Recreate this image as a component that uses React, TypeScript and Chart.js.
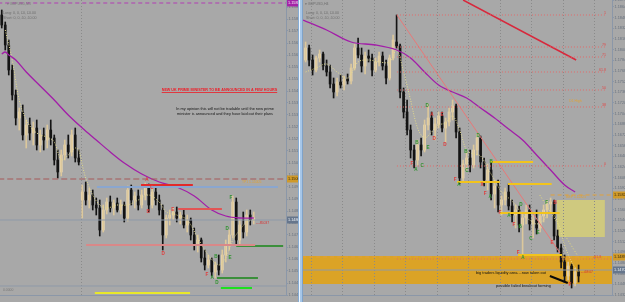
import React, { useEffect, useRef } from "react";
import { Chart, registerables } from "chart.js";

Chart.register(...registerables);

const FONT = "'Liberation Sans', Arial, 'DejaVu Sans', sans-serif";
const BG = "#a8a8a8";
const AXIS = "#8b97a8";
const LABEL = "#66707e";
const BULL_BODY = "#f3dfb2";
const BULL_WICK = "#dcc89c";
const BEAR = "#141414";
const PURPLE = "#a21ea8";
const FAST = "#e4dc8c";
const RED_TXT = "#e03c3c";
const GREEN_TXT = "#2f932f";

// ---------------- LEFT PANEL (GBPUSD, intraday) ----------------
const leftOpen = [
  1.15825, 1.15775, 1.15675, 1.1555, 1.15425, 1.1531, 1.1534, 1.15225, 1.15275, 1.15235,
  1.1526, 1.15175, 1.15225, 1.152, 1.1525, 1.1521, 1.151, 1.1504, 1.15125, 1.15175,
  1.1514, 1.15225, 1.1511, 1.149, 1.1494, 1.149, 1.14925, 1.14875, 1.1486, 1.1475,
  1.1485, 1.1489, 1.1486, 1.14885, 1.1485, 1.14875, 1.1481, 1.1495, 1.149, 1.1492,
  1.14875, 1.14925, 1.1496, 1.14875, 1.1494, 1.149, 1.1485, 1.14725, 1.1481, 1.14825,
  1.1484, 1.1481, 1.14825, 1.14775, 1.148, 1.14725, 1.14675, 1.147, 1.1461, 1.14575,
  1.146, 1.1454, 1.14575, 1.1455, 1.14625, 1.14675, 1.14725, 1.1489, 1.147, 1.14775,
  1.1474, 1.14825, 1.148,
];
const leftHigh = [
  1.1585, 1.1579, 1.157, 1.15575, 1.1545, 1.1536, 1.15375, 1.153, 1.1531, 1.1529,
  1.153, 1.1525, 1.1526, 1.15275, 1.153, 1.15225, 1.1515, 1.1515, 1.152, 1.15225,
  1.1525, 1.1526, 1.1515, 1.14975, 1.1499, 1.1496, 1.1495, 1.1491, 1.149, 1.14875,
  1.1491, 1.1492, 1.149, 1.1491, 1.149, 1.1489, 1.1497, 1.14975, 1.1494, 1.1495,
  1.1495, 1.14985, 1.1498, 1.1496, 1.1496, 1.14925, 1.14875, 1.14825, 1.1485, 1.1486,
  1.14865, 1.1484, 1.1485, 1.14825, 1.1481, 1.1476, 1.14725, 1.1471, 1.1465, 1.14625,
  1.1461, 1.1459, 1.14625, 1.1465, 1.147, 1.1475, 1.1492, 1.1491, 1.148, 1.1484,
  1.1485, 1.1485, 1.1484,
];
const leftLow = [
  1.1576, 1.1565, 1.15525, 1.154, 1.15275, 1.1525, 1.152, 1.1516, 1.152, 1.15175,
  1.1515, 1.1514, 1.1515, 1.1516, 1.15175, 1.15075, 1.1501, 1.1502, 1.151, 1.1511,
  1.1512, 1.1509, 1.15075, 1.1481, 1.14875, 1.1486, 1.1485, 1.14825, 1.1472, 1.1474,
  1.1483, 1.1484, 1.14825, 1.1484, 1.1483, 1.1479, 1.14795, 1.14875, 1.1486, 1.1485,
  1.1486, 1.149, 1.1484, 1.1486, 1.14875, 1.14825, 1.1465, 1.1471, 1.14775, 1.148,
  1.1479, 1.1478, 1.1476, 1.1474, 1.147, 1.1465, 1.1464, 1.1459, 1.1455, 1.1456,
  1.1452, 1.1451, 1.14525, 1.14535, 1.1459, 1.1465, 1.1471, 1.14675, 1.1468, 1.1471,
  1.1472, 1.14775, 1.1478,
];
const leftClose = [
  1.15775, 1.15675, 1.1555, 1.15425, 1.1531, 1.1534, 1.15225, 1.15275, 1.15235, 1.1526,
  1.15175, 1.15225, 1.152, 1.1525, 1.1521, 1.151, 1.1504, 1.15125, 1.15175, 1.1514,
  1.15225, 1.1511, 1.1509, 1.1494, 1.149, 1.14925, 1.14875, 1.1486, 1.1475, 1.1485,
  1.1489, 1.1486, 1.14885, 1.1485, 1.14875, 1.1481, 1.1495, 1.149, 1.1492, 1.14875,
  1.14925, 1.1496, 1.14875, 1.1494, 1.149, 1.1485, 1.14725, 1.1481, 1.14825, 1.1484,
  1.1481, 1.14825, 1.14775, 1.148, 1.14725, 1.14675, 1.147, 1.1461, 1.14575, 1.146,
  1.1454, 1.14575, 1.1455, 1.14625, 1.14675, 1.14725, 1.1489, 1.147, 1.14775, 1.1474,
  1.14825, 1.148, 1.1481,
];
const leftFastIdx = [1, 3, 5, 7, 9, 11, 13, 15, 17, 19, 21, 22, 23, 24, 26, 28, 30, 33, 36, 39, 42, 45, 47, 50, 53, 56, 59, 62, 64, 66, 68, 70, 72];
const leftFastVal = [
  1.1575, 1.156, 1.154, 1.153, 1.1525, 1.15225, 1.15215, 1.1519, 1.151, 1.15125,
  1.1516, 1.1515, 1.15075, 1.1501, 1.14925, 1.14875, 1.1486, 1.14875, 1.14875, 1.149,
  1.14925, 1.1489, 1.1484, 1.14825, 1.148, 1.1471, 1.14625, 1.14575, 1.1461, 1.147,
  1.1475, 1.1479, 1.148,
];
const leftSlowIdx = [0, 1, 2, 4, 7, 11, 15, 19, 23, 27, 31, 35, 40, 45, 50, 55, 60, 64, 68, 72];
const leftSlowVal = [
  1.1563, 1.1564, 1.15625, 1.156, 1.1554, 1.1547, 1.154, 1.15325, 1.1526, 1.152,
  1.1514, 1.15085, 1.1503, 1.1499, 1.14965, 1.1492, 1.1485, 1.1482, 1.1481, 1.1481,
];
const leftTickIdx = [0, 6, 12, 18, 24, 30, 36, 42, 48, 54, 60, 66, 72];
const leftTimeLabels = [
  "2 Sep 2022", "2 Sep 20:20", "2 Sep 20:40", "2 Sep 23:00", "5 Sep 00:49", "5 Sep 02:09",
  "5 Sep 03:29", "5 Sep 04:49", "5 Sep 06:09", "5 Sep 07:29", "5 Sep 08:49", "5 Sep 10:09", "5 Sep 11:29",
];
const leftLevelPrice = [1.15885, 1.15005, 1.14965, 1.148, 1.14675, 1.14975, 1.14855, 1.1467, 1.1451, 1.1446, 1.14435, 1.1447];
const leftLevelFrom = [-1, -1, 27.2, -1, 24.1, 39.8, 50.4, 67, 61.5, 62.6, 26.6, -1];
const leftLevelTo = [82, 82, 78.9, 82, 72.4, 54.6, 62.9, 80.4, 73.2, 71.5, 53.8, 82];
const leftSessionBreaks = [22.5];
const leftLetters = ["A", "C", "B", "E", "D", "F", "A", "D", "B", "D", "E", "F"];
const leftLetterX = [41.5, 42.9, 41.8, 48.9, 46.1, 58.6, 60.1, 61.5, 61.2, 64.4, 65.2, 65.5];
const leftLetterY = [1.15, 1.1496, 1.1484, 1.1485, 1.1463, 1.14525, 1.1451, 1.14485, 1.14615, 1.14755, 1.1461, 1.1491];
const leftLetterTone = ["r", "r", "r", "r", "r", "r", "g", "g", "g", "g", "g", "g"];
const leftTagPrice = [1.15885, 1.15005, 1.148];

// ---------------- RIGHT PANEL (GBPUSD, H4) ----------------
const rightOpen = [
  1.1785, 1.1803, 1.1785, 1.177, 1.1788, 1.1794, 1.1776, 1.1767, 1.1749, 1.1737,
  1.1752, 1.17475, 1.17565, 1.17535, 1.1773, 1.1803, 1.17925, 1.1776, 1.1791, 1.1788,
  1.177, 1.1782, 1.1791, 1.1776, 1.1758, 1.1788, 1.1812, 1.1806, 1.1737, 1.1707,
  1.168, 1.165, 1.1635, 1.16575, 1.165, 1.16875, 1.1698, 1.168, 1.1689, 1.1701,
  1.1683, 1.1692, 1.1707, 1.1716, 1.1677, 1.1608, 1.1629, 1.1638, 1.16275, 1.165,
  1.1668, 1.1632, 1.1605, 1.162, 1.1584, 1.1596, 1.15675, 1.1575, 1.1587, 1.1566,
  1.15525, 1.156, 1.15375, 1.1548, 1.156, 1.1539, 1.1545, 1.1533, 1.1551, 1.156,
  1.1569, 1.1572, 1.1521, 1.1503, 1.1482, 1.1461, 1.1476, 1.14505, 1.1467,
];
const rightHigh = [
  1.1812, 1.18075, 1.17925, 1.1791, 1.18, 1.1797, 1.1785, 1.17775, 1.1758, 1.1758,
  1.17625, 1.1761, 1.1764, 1.1779, 1.1809, 1.1818, 1.1803, 1.1797, 1.18, 1.1794,
  1.1788, 1.1797, 1.1797, 1.1785, 1.17925, 1.18225, 1.18525, 1.1809, 1.1743, 1.1725,
  1.16875, 1.16575, 1.1665, 1.1668, 1.1695, 1.1719, 1.1707, 1.1698, 1.1707, 1.1707,
  1.1698, 1.1713, 1.1725, 1.1719, 1.1683, 1.1635, 1.1647, 1.165, 1.16575, 1.1674,
  1.1671, 1.1638, 1.1629, 1.1632, 1.1605, 1.1605, 1.1581, 1.1593, 1.1599, 1.1575,
  1.15675, 1.1566, 1.1557, 1.15675, 1.15675, 1.15525, 1.156, 1.1557, 1.15675, 1.1575,
  1.1578, 1.1575, 1.153, 1.1509, 1.14925, 1.1482, 1.1479, 1.1473, 1.14775,
];
const rightLow = [
  1.1782, 1.1776, 1.17625, 1.1767, 1.1782, 1.177, 1.1761, 1.1743, 1.1728, 1.1731,
  1.1743, 1.174, 1.1749, 1.1749, 1.177, 1.1788, 1.1767, 1.1764, 1.1782, 1.1761,
  1.1767, 1.1776, 1.177, 1.1749, 1.1755, 1.1785, 1.1803, 1.1728, 1.1698, 1.16725,
  1.1638, 1.1623, 1.16275, 1.1641, 1.1647, 1.168, 1.16725, 1.1665, 1.1683, 1.1677,
  1.1662, 1.1686, 1.1695, 1.1668, 1.1599, 1.1602, 1.162, 1.1617, 1.1623, 1.16425,
  1.1623, 1.1596, 1.159, 1.1575, 1.1563, 1.1557, 1.15525, 1.15675, 1.156, 1.1542,
  1.1533, 1.1527, 1.1491, 1.1539, 1.153, 1.1518, 1.1524, 1.1527, 1.1542, 1.1548,
  1.1557, 1.1515, 1.1497, 1.1473, 1.1452, 1.1455, 1.1443, 1.1446, 1.1452,
];
const rightClose = [
  1.1803, 1.1785, 1.177, 1.1788, 1.1794, 1.1776, 1.1767, 1.1749, 1.1737, 1.1752,
  1.17475, 1.17565, 1.17535, 1.1773, 1.1803, 1.17925, 1.1776, 1.1791, 1.1788, 1.177,
  1.1782, 1.1791, 1.1776, 1.1758, 1.1788, 1.1815, 1.1806, 1.1737, 1.1707, 1.168,
  1.165, 1.1635, 1.16575, 1.165, 1.16875, 1.1698, 1.168, 1.1689, 1.1701, 1.1683,
  1.1692, 1.1707, 1.1716, 1.1677, 1.1608, 1.1629, 1.1638, 1.16275, 1.165, 1.1668,
  1.1632, 1.1605, 1.162, 1.1584, 1.1596, 1.15675, 1.1575, 1.1587, 1.1566, 1.15525,
  1.156, 1.15375, 1.1548, 1.156, 1.1539, 1.1545, 1.1533, 1.1551, 1.156, 1.1569,
  1.1572, 1.1521, 1.1503, 1.1482, 1.1461, 1.1476, 1.14505, 1.1467, 1.1461,
];
const rightFastIdx = [0, 3, 6, 9, 12, 15, 18, 21, 24, 26, 28, 30, 32, 34, 36, 38, 40, 42, 44, 46, 48, 50, 52, 54, 56, 58, 60, 62, 64, 66, 68, 70, 72, 74, 76, 78];
const rightFastVal = [
  1.1767, 1.1773, 1.1779, 1.1767, 1.1758, 1.1782, 1.1785, 1.1782, 1.1782, 1.18,
  1.1767, 1.1725, 1.1683, 1.1668, 1.1677, 1.16875, 1.16905, 1.1701, 1.168, 1.165,
  1.1644, 1.1641, 1.1623, 1.1605, 1.1587, 1.1578, 1.15675, 1.15525, 1.1545, 1.1539,
  1.1545, 1.1557, 1.1542, 1.15075, 1.1482, 1.1467,
];
const rightSlowIdx = [-0.7, 6, 13, 20, 26, 30, 34, 38, 42, 46, 50, 54, 58, 62, 66, 70, 74, 77];
const rightSlowVal = [
  1.1845, 1.183, 1.1812, 1.18075, 1.18, 1.1788, 1.1767, 1.17475, 1.1737, 1.1728,
  1.1713, 1.1698, 1.16815, 1.1665, 1.16425, 1.162, 1.15975, 1.1587,
];
const rightTickIdx = [0, 6, 12, 18, 24, 30, 36, 42, 48, 54, 60, 66, 72, 78];
const rightTimeLabels = [
  "19 Aug 2022", "22 Aug 08:00", "23 Aug 08:00", "24 Aug 08:00", "25 Aug 08:00", "26 Aug 08:00", "29 Aug 08:00",
  "30 Aug 08:00", "31 Aug 08:00", "1 Sep 08:00", "2 Sep 08:00", "5 Sep 08:00", "6 Sep 08:00", "7 Sep 08:00",
];
const rightGrid = [1.5, 10.5, 19.5, 28.5, 37.5, 46.5, 55.5, 64.5, 73.5, 82.5];
const rightFibPrice = [1.18525, 1.18045, 1.17895, 1.1767, 1.174, 1.17145, 1.1626, 1.14865];
const rightFibLabel = ["1", "79", "71", "61.8", "50", "38", "0", "-61.8"];
const rightFibFrom = 26.1;
const rightFibTo = [85.9, 85.9, 85.9, 85.9, 85.9, 85.9, 85.9, 88];
const rightGoldPrice = [1.1602, 1.1632, 1.1599, 1.15555, 1.14925];
const rightGoldFrom = [43.3, 52.7, 57.8, 55.5, 60.7];
const rightGoldTo = [55.5, 65, 70.3, 72.6, 73.3];
const rightMarkPrice = [1.15825, 1.14895, 1.147];
const rightMarkFrom = [70, -1, -1];
const rightMarkTo = [88, 88, 88];
const rightTrendX = [45.0, 77.3];
const rightTrendY = [1.1875, 1.1785];
const rightSwingX = [26.1, 72.7];
const rightSwingY = [1.18525, 1.14955];
const rightProjX = [66.9, 77.6];
const rightProjY = [1.15825, 1.14925];
const rightArrowX = [69.8, 74.9];
const rightArrowY = [1.1461, 1.14505];
const rightZoneX = [-1, 88];
const rightZoneY = [1.1491, 1.1449];
const rightBoxX = [71.8, 85.5];
const rightBoxY = [1.1575, 1.15195];
const rightLetters = ["D", "A", "E", "D", "D", "B", "E", "F", "A", "C", "F", "A", "B", "C", "D", "B", "X", "A", "F", "F", "A", "D", "F", "B", "E", "C", "F", "B", "E", "F", "A", "F"];
const rightLetterX = [34.7, 36.1, 39.0, 36.7, 39.8, 31.8, 35.0, 30.4, 31.5, 33.3, 42.7, 43.8, 45.8, 46.1, 49.3, 53.0, 50.4, 52.7, 51.3, 55.5, 58.1, 61.5, 59.5, 61.3, 66.4, 64.4, 68.9, 71.3, 70.4, 60.7, 62.1, 75.5];
const rightLetterY = [1.1716, 1.17025, 1.17025, 1.16665, 1.16575, 1.16605, 1.1653, 1.1629, 1.162, 1.1626, 1.1605, 1.15975, 1.1647, 1.16185, 1.1671, 1.1632, 1.15975, 1.15795, 1.1584, 1.15555, 1.1551, 1.15675, 1.15375, 1.15345, 1.15255, 1.15165, 1.15705, 1.15705, 1.15105, 1.14955, 1.1488, 1.14475];
const rightLetterTone = ["g", "r", "r", "r", "r", "g", "g", "r", "g", "g", "r", "g", "g", "g", "g", "g", "r", "g", "r", "r", "g", "g", "r", "g", "g", "g", "g", "r", "r", "r", "g", "r"];
const rightTagPrice = [1.15825, 1.14895, 1.147];

// ---------------- helpers ----------------
function candleDatasets(o: number[], h: number[], l: number[], c: number[], body: number) {
  const bullWick: any[] = [], bearWick: any[] = [], bullBody: any[] = [], bearBody: any[] = [];
  o.forEach((op, i) => {
    const up = c[i] >= op;
    (up ? bullWick : bearWick).push({ x: i, y: [l[i], h[i]] });
    (up ? bullBody : bearBody).push({ x: i, y: [Math.min(op, c[i]), Math.max(op, c[i])] });
  });
  const base: any = { type: "bar", grouped: false, borderWidth: 0, order: 10, minBarLength: 1 };
  return [
    { ...base, data: bullWick, backgroundColor: BULL_WICK, barThickness: 1 },
    { ...base, data: bearWick, backgroundColor: BEAR, barThickness: 1 },
    { ...base, data: bullBody, backgroundColor: BULL_BODY, barThickness: body },
    { ...base, data: bearBody, backgroundColor: BEAR, barThickness: body },
  ];
}

function seg(x: number[], y: number[], color: string, width: number, dash: number[] = []) {
  return {
    type: "line",
    data: x.map((v, i) => ({ x: v, y: y[i] })),
    borderColor: color,
    borderWidth: width,
    borderDash: dash,
    pointRadius: 0,
    fill: false,
    tension: 0,
    order: 1,
  };
}

function curve(x: number[], y: number[], color: string, width: number, dash: number[] = []) {
  return { ...seg(x, y, color, width, dash), tension: 0.35, order: 2 };
}

function overlay(spec: any) {
  return {
    id: "overlay",
    beforeDatasetsDraw(chart: any) {
      const { ctx, chartArea: a } = chart;
      const xs = chart.scales.x, ys = chart.scales.y;
      ctx.save();
      ctx.beginPath();
      ctx.rect(a.left, a.top, a.right - a.left, a.bottom - a.top);
      ctx.clip();
      for (const b of spec.boxes || []) {
        const x0 = xs.getPixelForValue(b.x[0]), x1 = xs.getPixelForValue(b.x[1]);
        const y0 = ys.getPixelForValue(b.y[0]), y1 = ys.getPixelForValue(b.y[1]);
        ctx.fillStyle = b.color;
        ctx.fillRect(Math.min(x0, x1), Math.min(y0, y1), Math.abs(x1 - x0), Math.abs(y1 - y0));
      }
      ctx.strokeStyle = "#8a8a8a";
      ctx.lineWidth = 1;
      ctx.setLineDash([1, 2]);
      for (const v of spec.vlines || []) {
        const px = Math.round(xs.getPixelForValue(v)) + 0.5;
        ctx.beginPath();
        ctx.moveTo(px, a.top);
        ctx.lineTo(px, a.bottom);
        ctx.stroke();
      }
      ctx.restore();
    },
    afterDatasetsDraw(chart: any) {
      const { ctx, chartArea: a } = chart;
      const xs = chart.scales.x, ys = chart.scales.y;
      ctx.save();
      ctx.beginPath();
      ctx.rect(a.left, a.top, a.right - a.left, a.bottom - a.top);
      ctx.clip();
      ctx.textBaseline = "middle";
      for (const t of spec.texts || []) {
        const px = xs.getPixelForValue(t.x), py = ys.getPixelForValue(t.y);
        ctx.font = `${t.bold ? "bold " : ""}${t.size}px ${FONT}`;
        ctx.fillStyle = t.color;
        ctx.textAlign = t.align || "left";
        ctx.fillText(t.text, px, py);
        if (t.underline) {
          const w = ctx.measureText(t.text).width;
          const sx = t.align === "center" ? px - w / 2 : t.align === "right" ? px - w : px;
          ctx.fillRect(sx, py + t.size * 0.55, w, 0.8);
        }
      }
      ctx.textAlign = "left";
      for (const t of spec.corner || []) {
        ctx.font = `${t.size}px ${FONT}`;
        ctx.fillStyle = t.color;
        ctx.fillText(t.text, a.left + t.dx, a.top + t.dy);
      }
      ctx.restore();
    },
    afterDraw(chart: any) {
      const { ctx, chartArea: a } = chart;
      const ys = chart.scales.y;
      ctx.save();
      ctx.textBaseline = "middle";
      ctx.textAlign = "left";
      ctx.font = `3.8px ${FONT}`;
      for (const t of spec.tags || []) {
        const py = ys.getPixelForValue(t.value);
        ctx.fillStyle = t.bg;
        ctx.fillRect(a.right + 1, py - 3.5, chart.width - a.right - 1, 7);
        ctx.fillStyle = t.fg;
        ctx.fillText(t.value.toFixed(5), a.right + 2, py + 0.3);
      }
      ctx.restore();
    },
  };
}

function panelConfig(p: any) {
  return {
    type: "bar",
    data: { datasets: p.datasets },
    plugins: [overlay(p.overlay)],
    options: {
      animation: false,
      responsive: false,
      maintainAspectRatio: false,
      events: [],
      layout: { padding: 0 },
      plugins: { legend: { display: false }, tooltip: { enabled: false } },
      scales: {
        x: {
          type: "linear",
          min: p.xMin,
          max: p.xMax,
          offset: false,
          bounds: "data",
          grid: { display: false, offset: false },
          border: { display: true, color: AXIS },
          afterBuildTicks: (s: any) => {
            s.ticks = p.tickIdx.map((v: number) => ({ value: v }));
          },
          afterFit: (s: any) => {
            s.height = 7;
            s.paddingLeft = 0;
            s.paddingRight = 0;
          },
          ticks: {
            autoSkip: false,
            maxRotation: 0,
            minRotation: 0,
            align: "start",
            padding: 1,
            color: LABEL,
            font: { size: 4, family: FONT },
            callback: (_v: any, i: number) => p.tickLabels[i] ?? "",
          },
        },
        y: {
          type: "linear",
          position: "right",
          min: p.yMin,
          max: p.yMax,
          bounds: "data",
          grid: { display: true, drawOnChartArea: false, drawTicks: true, tickLength: 2, color: AXIS },
          border: { display: true, color: AXIS },
          afterFit: (s: any) => {
            s.width = p.axisWidth;
            s.paddingTop = 0;
            s.paddingBottom = 0;
          },
          ticks: {
            stepSize: p.step,
            includeBounds: false,
            padding: 0.5,
            color: LABEL,
            font: { size: 3.8, family: FONT },
            callback: (v: any) => Number(v).toFixed(5),
          },
        },
      },
    },
  };
}

function letterTexts(letters: string[], xs: number[], ys: number[], tones: string[]) {
  return letters.map((t, i) => ({
    text: t, x: xs[i], y: ys[i], color: tones[i] === "r" ? RED_TXT : GREEN_TXT, size: 4.6, bold: true, align: "center",
  }));
}

function makeLeft() {
  const st = [
    { c: "#b23cb4", w: 1, d: [4, 3] },
    { c: "#a65858", w: 1, d: [6, 3] },
    { c: "#8aa6cf", w: 2 },
    { c: "#8e99a8", w: 1 },
    { c: "#d98888", w: 2 },
    { c: "#e22a2a", w: 2 },
    { c: "#e25555", w: 2 },
    { c: "#3b8f3b", w: 2 },
    { c: "#3b8f3b", w: 2 },
    { c: "#1ee01e", w: 2 },
    { c: "#e8e82a", w: 2 },
    { c: "#8e99a8", w: 1 },
  ];
  const datasets = [
    ...leftLevelPrice.map((lv, k) => seg([leftLevelFrom[k], leftLevelTo[k]], [lv, lv], st[k].c, st[k].w, st[k].d || [])),
    ...candleDatasets(leftOpen, leftHigh, leftLow, leftClose, 2),
    curve(leftSlowIdx, leftSlowVal, PURPLE, 1.3),
    curve(leftFastIdx, leftFastVal, FAST, 1, [1, 1.5]),
  ];
  return panelConfig({
    datasets,
    xMin: -0.5,
    xMax: -0.5 + 286 / 3.5,
    yMin: 1.14425,
    yMax: 1.159,
    step: 0.0006,
    axisWidth: 12,
    tickIdx: leftTickIdx,
    tickLabels: leftTimeLabels,
    overlay: {
      vlines: leftSessionBreaks,
      texts: [
        { text: "NEW UK PRIME MINISTER TO BE ANNOUNCED IN A FEW HOURS", x: 62.2, y: 1.1545, color: "#ee1c26", size: 3.7, bold: true, underline: true, align: "center" },
        { text: "In my opinion this will not be tradable until the new prime", x: 63.8, y: 1.15355, color: "#151515", size: 3.9, align: "center" },
        { text: "minister is announced and they have laid out their plans", x: 63.8, y: 1.1533, color: "#151515", size: 3.9, align: "center" },
        { text: "TP1 1.15005", x: 71.4, y: 1.1499, color: "#e0a232", size: 3.4, align: "center" },
        { text: "\u2190-85037", x: 72.4, y: 1.14785, color: "#d83030", size: 3.4, align: "left" },
        { text: "0.0000", x: 0.36, y: 1.1445, color: "#777777", size: 3.4, align: "left" },
        ...letterTexts(leftLetters, leftLetterX, leftLetterY, leftLetterTone),
      ],
      corner: [
        { text: "\u25BE GBPUSD,M1", dx: 7, dy: 3.5, color: "#7a7a7a", size: 3.6 },
        { text: "Long: 0, 0, \u00A30, \u00A30.00", dx: 3, dy: 13, color: "#6e6e6e", size: 3.6 },
        { text: "Short: 0, 0, \u00A30, \u00A30.00", dx: 3, dy: 18, color: "#6e6e6e", size: 3.6 },
      ],
      tags: [
        { value: leftTagPrice[0], bg: "#a424a8", fg: "#f4e8f4" },
        { value: leftTagPrice[1], bg: "#cf9a2a", fg: "#3a2a08" },
        { value: leftTagPrice[2], bg: "#66768c", fg: "#eef2f6" },
      ],
    },
  });
}

function makeRight() {
  const markStyle = [
    { c: "#e2a13a", w: 1, d: [4, 3] },
    { c: "#e2a13a", w: 1, d: [4, 3] },
    { c: "#8e99a8", w: 1, d: [] as number[] },
  ];
  const datasets = [
    ...rightFibPrice.map((lv, k) => seg([rightFibFrom, rightFibTo[k]], [lv, lv], "#e46a6a", 1, [1, 2])),
    ...rightMarkPrice.map((lv, k) => seg([rightMarkFrom[k], rightMarkTo[k]], [lv, lv], markStyle[k].c, markStyle[k].w, markStyle[k].d)),
    ...candleDatasets(rightOpen, rightHigh, rightLow, rightClose, 2),
    ...rightGoldPrice.map((lv, k) => seg([rightGoldFrom[k], rightGoldTo[k]], [lv, lv], "#f2c41c", 2)),
    seg(rightTrendX, rightTrendY, "#d8283c", 1.5),
    seg(rightSwingX, rightSwingY, "#e87878", 1),
    seg(rightProjX, rightProjY, "#e6dc7a", 1, [1, 2]),
    seg(rightArrowX, rightArrowY, "#0a0a0a", 2),
    curve(rightSlowIdx, rightSlowVal, PURPLE, 1.3),
    curve(rightFastIdx, rightFastVal, FAST, 1, [1, 1.5]),
  ];
  return panelConfig({
    datasets,
    xMin: -0.743,
    xMax: -0.743 + 309 / 3.5,
    yMin: 1.14325,
    yMax: 1.1875,
    step: 0.0016,
    axisWidth: 13,
    tickIdx: rightTickIdx,
    tickLabels: rightTimeLabels,
    overlay: {
      vlines: rightGrid,
      boxes: [
        { x: rightZoneX, y: rightZoneY, color: "#dba326" },
        { x: rightBoxX, y: rightBoxY, color: "rgba(238,228,92,0.55)" },
      ],
      texts: [
        { text: "big traders liquidity area....now taken out", x: 48.7, y: 1.14655, color: "#111111", size: 3.9, align: "left" },
        { text: "possible failed breakout forming", x: 54.4, y: 1.1446, color: "#111111", size: 3.9, align: "left" },
        { text: "\u2190-68:07", x: 78.4, y: 1.1467, color: "#d83030", size: 3.4, align: "left" },
        { text: "BEP 1.15825", x: 77.3, y: 1.15795, color: "#e0a232", size: 3.4, align: "center" },
        { text: "TP1 1.14895", x: 76.4, y: 1.1487, color: "#e0a232", size: 3.4, align: "center" },
        { text: "D1 High", x: 77.1, y: 1.17235, color: "#e0a232", size: 3.4, align: "center" },
        ...rightFibPrice.map((lv, k) => ({
          text: rightFibLabel[k], x: k === 7 ? 84.5 : 85.8, y: lv + 0.0003, color: "#e04848", size: 3.6, align: "right",
        })),
        ...letterTexts(rightLetters, rightLetterX, rightLetterY, rightLetterTone),
      ],
      corner: [
        { text: "\u25BE GBPUSD,H4", dx: 2, dy: 3.5, color: "#6e6e6e", size: 3.6 },
        { text: "Long: 0, 0, \u00A30, \u00A30.00", dx: 3, dy: 13, color: "#6e6e6e", size: 3.6 },
        { text: "Short: 0, 0, \u00A30, \u00A30.00", dx: 3, dy: 18, color: "#6e6e6e", size: 3.6 },
      ],
      tags: [
        { value: rightTagPrice[0], bg: "#cf9a2a", fg: "#3a2a08" },
        { value: rightTagPrice[1], bg: "#cf9a2a", fg: "#3a2a08" },
        { value: rightTagPrice[2], bg: "#66768c", fg: "#eef2f6" },
      ],
    },
  });
}

function Panel({ make, left, width }: { make: () => any; left: number; width: number }) {
  const ref = useRef<HTMLCanvasElement>(null);
  useEffect(() => {
    const chart = new Chart(ref.current as HTMLCanvasElement, make());
    return () => chart.destroy();
  }, []);
  return (
    <canvas
      ref={ref}
      width={width}
      height={302}
      style={{ position: "absolute", left, top: 0, width, height: 302, display: "block" }}
    />
  );
}

export default function App() {
  return (
    <div style={{ position: "fixed", left: 0, top: 0, width: 625, height: 302, background: BG, overflow: "hidden" }}>
      <Panel make={makeLeft} left={0} width={298} />
      <div
        style={{
          position: "absolute",
          left: 298,
          top: 0,
          width: 5,
          height: 302,
          background:
            "linear-gradient(90deg,#86acd4 0px,#86acd4 1px,#eef6ff 1px,#eef6ff 2px,#a6c6e8 2px,#a6c6e8 4px,#7fa2c8 4px)",
        }}
      />
      <Panel make={makeRight} left={303} width={322} />
    </div>
  );
}
